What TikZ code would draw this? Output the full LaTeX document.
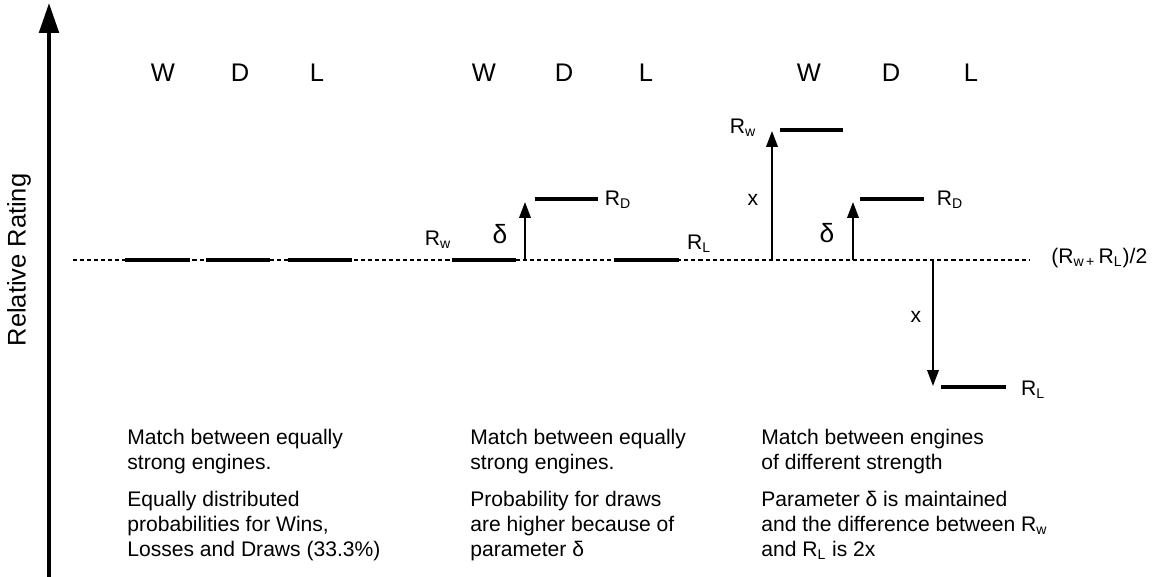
\documentclass[tikz,border=0pt]{standalone}
\usepackage{fontspec}
\setmainfont{Liberation Sans}
\usetikzlibrary{arrows.meta,positioning}

\begin{document}
\begin{tikzpicture}[x=0.02cm,y=-0.02cm,
  level/.style={line width=2.3pt},
  base/.style={line width=0.8pt,dash pattern=on 2.3pt off 1.7pt},
  rise/.style={line width=1.1pt,-{Triangle[length=9pt,width=6.5pt]}},
  head/.style={font=\fontsize{14.5}{17}\selectfont},
  lbl/.style={font=\fontsize{12}{14}\selectfont,inner sep=0pt},
  note/.style={font=\fontsize{12}{14.2}\selectfont,align=left,anchor=north west,inner sep=0pt}]
\useasboundingbox (0,0) rectangle (1160,577);

% rating axis
\coordinate (ybot) at (49,577);
\coordinate (ytop) at (49,3);
\draw[line width=2.3pt,-{Triangle[length=17pt,width=11pt]}] (ybot) -- (ytop);
\node[rotate=90,head] (ylab) at (19,260) {Relative Rating};

% mean level
\coordinate (m0) at (73,260);
\coordinate (m1) at (1030,260);
\draw[base] (m0) -- (m1);
\node[lbl,anchor=west] (mean) at (1051,258) {(R\textsubscript{w\,+}\,R\textsubscript{L})/2};

% W D L headings
\foreach \x/\t [count=\i] in {163/W,240/D,317/L,484/W,564/D,646/L,809/W,891/D,971/L}
  \node[head] (h\i) at (\x,73) {\t};

% equal strength
\draw[level] (125,260) -- (190,260);
\draw[level] (206,260) -- (270,260);
\draw[level] (288,260) -- (352,260);

% equal strength, draws raised
\draw[level] (452,260) -- (516,260);
\draw[level] (535,199) -- (598,199);
\draw[level] (614,260) -- (679,260);
\coordinate (d2a) at (525,260);
\coordinate (d2b) at (525,202);
\draw[rise] (d2a) -- (d2b);
\node[lbl] (rw2) at (438,240) {R\textsubscript{w}};
\node[lbl,font=\fontsize{15}{17}\selectfont] (dl2) at (500,234) {δ};
\node[lbl] (rd2) at (618,200) {R\textsubscript{D}};
\node[lbl] (rl2) at (699,244) {R\textsubscript{L}};

% different strength
\draw[level] (780,130) -- (843,130);
\draw[level] (860,199) -- (924,199);
\draw[level] (941,387) -- (1006,387);
\coordinate (w3a) at (772,260);
\coordinate (w3b) at (772,131);
\coordinate (d3a) at (853,260);
\coordinate (d3b) at (853,202);
\coordinate (l3a) at (933,260);
\coordinate (l3b) at (933,386);
\draw[rise] (w3a) -- (w3b);
\draw[rise] (d3a) -- (d3b);
\draw[rise] (l3a) -- (l3b);
\node[lbl] (rw3) at (743,128) {R\textsubscript{w}};
\node[lbl] (x3a) at (753,200) {x};
\node[lbl,font=\fontsize{15}{17}\selectfont] (dl3) at (827,233) {δ};
\node[lbl] (rd3) at (950,200) {R\textsubscript{D}};
\node[lbl] (x3b) at (916,317) {x};
\node[lbl] (rl3) at (1033,390) {R\textsubscript{L}};

% notes
\node[note] (n1a) at (127,429) {Match between equally\\strong engines.};
\node[note] (n1b) at (127,491) {Equally distributed\\probabilities for Wins,\\Losses and Draws (33.3\%)};
\node[note] (n2a) at (470,429) {Match between equally\\strong engines.};
\node[note] (n2b) at (470,491) {Probability for draws\\are higher because of\\parameter δ};
\node[note] (n3a) at (761,429) {Match between engines\\of different strength};
\node[note] (n3b) at (761,491) {Parameter δ is maintained\\and the difference between R\textsubscript{w}\\and R\textsubscript{L} is 2x};

\end{tikzpicture}
\end{document}
